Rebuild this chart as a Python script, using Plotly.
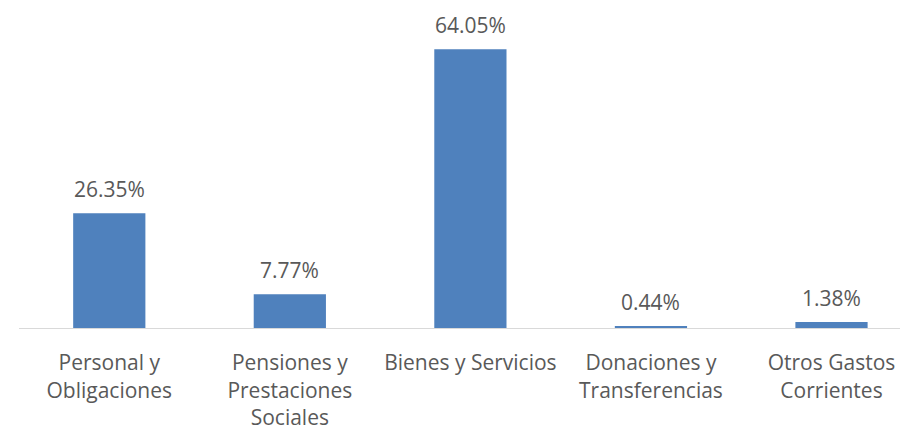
import plotly.graph_objects as go

categories = ["Personal y<br>Obligaciones", "Pensiones y<br>Prestaciones<br>Sociales",
              "Bienes y Servicios", "Donaciones y<br>Transferencias", "Otros Gastos<br>Corrientes"]
values = [26.35, 7.77, 64.05, 0.44, 1.38]
labels = ["26.35%", "7.77%", "64.05%", "0.44%", "1.38%"]

FONT = "Open Sans"
GREY = "#595959"
xs = list(range(len(categories)))

fig = go.Figure(go.Bar(
    x=xs, y=values,
    marker=dict(color="#4F81BD", line=dict(width=0)),
    hoverinfo="skip",
))
for x, v, t in zip(xs, values, labels):
    fig.add_annotation(x=x, y=v, text=t, showarrow=False, yanchor="bottom",
                       yshift=9, borderpad=0,
                       font=dict(family=FONT, size=21, color=GREY))

# page body has an 8px margin, compensate in the figure margins
fig.update_layout(
    width=908, height=427,
    margin=dict(l=10.7, r=0, t=2, b=107, autoexpand=False),
    plot_bgcolor="white", paper_bgcolor="white",
    bargap=0.6, showlegend=False,
    xaxis=dict(range=[-0.5, 4.468], tickvals=xs, ticktext=categories,
               showline=True, linecolor="#D9D9D9", linewidth=1, showgrid=False,
               ticks="", tickfont=dict(family=FONT, size=21, color=GREY),
               ticklabelstandoff=16, zeroline=False, automargin=False),
    yaxis=dict(range=[0, 73.1], visible=False, showgrid=False, zeroline=False),
)
fig.write_html("out.html")
